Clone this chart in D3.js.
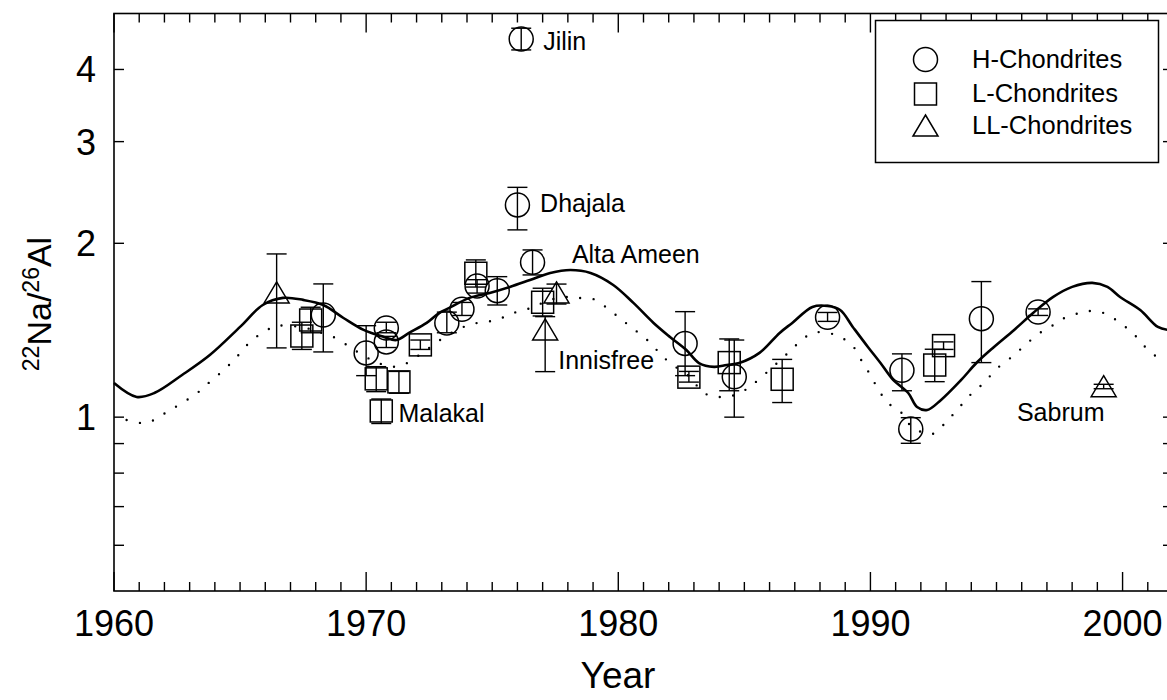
<!DOCTYPE html>
<html>
<head>
<meta charset="utf-8">
<style>
  body { margin: 0; background: #fff; }
  svg text { font-family: Arial, "Liberation Sans", sans-serif; fill: #000; }
</style>
</head>
<body>
<div id="chart"></div>
<script src="https://d3js.org/d3.v7.min.js"></script>
<script>
// model curve (solid)
var curveYears = [1960.0, 1960.9, 1961.6, 1962.7, 1963.8, 1965.0, 1965.9, 1966.7, 1967.5, 1968.3, 1969.1, 1969.9,
  1970.7, 1971.2, 1971.7, 1972.4, 1972.9, 1973.3, 1974.1, 1974.9, 1975.7, 1976.5, 1977.3, 1978.1, 1978.9,
  1979.8, 1980.6, 1981.4, 1982.05, 1982.7, 1983.2, 1983.8, 1984.3, 1984.8, 1985.6, 1986.4, 1986.9, 1987.7,
  1988.3, 1988.8, 1989.3, 1989.9, 1990.4, 1990.9, 1991.5, 1991.85, 1992.25, 1992.8, 1993.6, 1994.2, 1994.9,
  1995.7, 1996.45, 1997.25, 1998.0, 1998.8, 1999.4, 1999.9, 2000.7, 2001.4, 2001.8];
var curveValues = [1.146, 1.084, 1.101, 1.183, 1.281, 1.433, 1.564, 1.609, 1.596, 1.564, 1.485, 1.416,
  1.377, 1.360, 1.399, 1.456, 1.515, 1.546, 1.609, 1.641, 1.681, 1.728, 1.777, 1.798, 1.777,
  1.694, 1.577, 1.456, 1.377, 1.307, 1.241, 1.222, 1.231, 1.241, 1.292, 1.399, 1.456, 1.552,
  1.558, 1.533, 1.433, 1.323, 1.241, 1.160, 1.101, 1.041, 1.029, 1.071, 1.160, 1.241, 1.323,
  1.416, 1.515, 1.615, 1.681, 1.708, 1.681, 1.615, 1.533, 1.433, 1.416];

// dotted curve
var dotYears = [1960.5, 1961.1, 1961.6, 1962.1, 1962.7, 1963.3, 1963.8, 1964.4, 1964.9, 1965.4, 1966.0, 1966.5,
  1967.6, 1968.1, 1968.7, 1969.3, 1969.8, 1970.5, 1971.3, 1972.5, 1973.05, 1973.6, 1974.1, 1974.6, 1975.2,
  1975.7, 1976.3, 1976.8, 1977.3, 1977.9, 1978.4, 1979.0, 1979.5, 1980.0, 1980.5, 1981.1, 1981.6, 1982.05,
  1982.8, 1983.4, 1984.0, 1984.55, 1985.1, 1985.6, 1986.7, 1987.2, 1987.7, 1988.3, 1988.8, 1989.3, 1989.7,
  1990.0, 1990.3, 1990.7, 1991.2, 1991.65, 1992.45, 1993.0, 1993.5, 1994.0, 1994.5, 1995.0, 1995.6, 1996.1,
  1996.65, 1997.2, 1997.7, 1998.3, 1998.8, 1999.35, 1999.9, 2000.4, 2000.9, 2001.5];
var dotValues = [0.989, 0.977, 0.989, 1.021, 1.058, 1.101, 1.151, 1.212, 1.276, 1.350, 1.410, 1.439,
  1.427, 1.405, 1.377, 1.328, 1.286, 1.24, 1.225, 1.318, 1.371, 1.416, 1.445, 1.461, 1.473,
  1.509, 1.533, 1.564, 1.596, 1.615, 1.609, 1.602, 1.552, 1.491, 1.433, 1.366, 1.297, 1.241,
  1.178, 1.101, 1.084, 1.09, 1.119, 1.165, 1.288, 1.350, 1.399, 1.399, 1.377, 1.328, 1.241,
  1.183, 1.119, 1.058, 1.021, 0.962, 0.935, 0.981, 1.037, 1.097, 1.146, 1.212, 1.271, 1.328,
  1.393, 1.439, 1.485, 1.515, 1.527, 1.509, 1.456, 1.399, 1.323, 1.256];

// H-chondrites (circles)
var hYears = [1968.3, 1970.0, 1970.8, 1970.8, 1973.2, 1973.8, 1974.4, 1975.2, 1976.15, 1976.0, 1976.6,
  1982.65, 1984.6, 1988.3, 1991.25, 1991.6, 1994.4, 1996.65];
var hValues = [1.503, 1.292, 1.427, 1.350, 1.456, 1.538, 1.687, 1.656, 4.518, 2.331, 1.854,
  1.342, 1.175, 1.489, 1.206, 0.954, 1.481, 1.521];
var hLow = [1.297, 1.18, 1.40, 1.32, 1.40, 1.50, 1.64, 1.564, 4.324, 2.11, 1.763,
  1.18, 1.0, 1.465, 1.111, 0.901, 1.243, 1.50];
var hHigh = [1.701, 1.44, 1.46, 1.38, 1.52, 1.58, 1.73, 1.751, 4.715, 2.50, 1.948,
  1.523, 1.36, 1.518, 1.287, 0.998, 1.717, 1.54];

// L-chondrites (squares)
var lYears = [1967.8, 1967.45, 1970.4, 1971.3, 1970.6, 1972.15, 1974.35, 1977.0, 1982.8, 1984.4, 1986.5, 1992.9, 1992.55];
var lValues = [1.473, 1.382, 1.165, 1.151, 1.025, 1.334, 1.775, 1.581, 1.173, 1.243, 1.163, 1.330, 1.231];
var lLow = [1.40, 1.31, 1.107, 1.10, 0.975, 1.31, 1.68, 1.497, 1.15, 1.111, 1.06, 1.31, 1.152];
var lHigh = [1.55, 1.46, 1.223, 1.20, 1.075, 1.36, 1.872, 1.672, 1.20, 1.366, 1.259, 1.35, 1.311];

// LL-chondrites (triangles)
var llYears = [1966.45, 1977.55, 1977.1, 1999.25];
var llValues = [1.641, 1.641, 1.416, 1.129];
var llLow = [1.318, 1.57, 1.199, 1.12];
var llHigh = [1.917, 1.70, 1.493, 1.14];

// meteorite names
var labelNames = ["Jilin", "Dhajala", "Alta Ameen", "Innisfree", "Malakal", "Sabrum"];
var labelYears = [1977.02, 1976.9, 1978.16, 1977.62, 1971.28, 1995.81];
var labelValues = [4.324, 2.27, 1.847, 1.21, 0.982, 0.986];

var xMajor = [1960, 1970, 1980, 1990, 2000];
var yMajor = [1, 2, 3, 4];
var yMinor = [0.6, 0.7, 0.8, 0.9];
var legendNames = ["H-Chondrites", "L-Chondrites", "LL-Chondrites"];

var width = 1167, height = 700;
var plotLeft = 114, plotRight = 1173, plotTop = 13.5, plotBottom = 591;

var svg = d3.select("#chart").append("svg")
  .attr("width", width)
  .attr("height", height);

var x = d3.scaleLinear().domain([1960, 2002]).range([plotLeft, plotRight]);
var y = d3.scaleLog().domain([0.5, 5]).range([plotBottom, plotTop]);

// ticks, all pointing inward
var xMinor = d3.range(1961, 2002).filter(function(d) { return d % 10 != 0; });
function tickLine(x1, y1, x2, y2) {
  svg.append("line")
    .attr("x1", x1).attr("y1", y1).attr("x2", x2).attr("y2", y2)
    .attr("stroke", "black").attr("stroke-width", 1.4);
}
xMinor.forEach(function(d) {
  tickLine(x(d), plotBottom, x(d), plotBottom - 9);
  tickLine(x(d), plotTop, x(d), plotTop + 9);
});
xMajor.forEach(function(d) {
  tickLine(x(d), plotBottom, x(d), plotBottom - 19);
  tickLine(x(d), plotTop, x(d), plotTop + 19);
  svg.append("text")
    .attr("x", x(d)).attr("y", plotBottom + 45)
    .attr("text-anchor", "middle")
    .attr("font-size", "36px")
    .text(d);
});
yMajor.concat(yMinor).forEach(function(d) {
  tickLine(plotLeft, y(d), plotLeft + 10, y(d));
  tickLine(plotRight, y(d), plotRight - 10, y(d));
});
yMajor.forEach(function(d) {
  svg.append("text")
    .attr("x", 96).attr("y", y(d) + 13)
    .attr("text-anchor", "end")
    .attr("font-size", "36px")
    .text(d);
});

// frame
svg.append("rect")
  .attr("x", plotLeft).attr("y", plotTop)
  .attr("width", plotRight - plotLeft).attr("height", plotBottom - plotTop)
  .attr("fill", "none").attr("stroke", "black").attr("stroke-width", 1.6);

// axis titles
svg.append("text")
  .attr("x", 618).attr("y", 688)
  .attr("text-anchor", "middle")
  .attr("font-size", "37px")
  .text("Year");

var ylab = svg.append("text")
  .attr("transform", "translate(51,304) rotate(-90)")
  .attr("text-anchor", "middle")
  .attr("font-size", "34px");
ylab.append("tspan").attr("font-size", "23px").attr("dy", "-12").text("22");
ylab.append("tspan").attr("dy", "12").text("Na/");
ylab.append("tspan").attr("font-size", "23px").attr("dy", "-12").text("26");
ylab.append("tspan").attr("dy", "12").text("Al");

// curves
var solid = d3.line()
  .x(function(d, i) { return x(curveYears[i]); })
  .y(function(d) { return y(d); })
  .curve(d3.curveCatmullRom);
svg.append("path")
  .attr("d", solid(curveValues))
  .attr("fill", "none").attr("stroke", "black").attr("stroke-width", 2.6);

var dotted = d3.line()
  .x(function(d, i) { return x(dotYears[i]); })
  .y(function(d) { return y(d); })
  .curve(d3.curveCatmullRom);
svg.append("path")
  .attr("d", dotted(dotValues))
  .attr("fill", "none").attr("stroke", "black").attr("stroke-width", 2.4)
  .attr("stroke-linecap", "round")
  .attr("stroke-dasharray", "0 13.5");

// error bars
function errorBars(years, low, high) {
  years.forEach(function(yr, i) {
    var cx = x(yr);
    tickLine(cx, y(low[i]), cx, y(high[i]));
    tickLine(cx - 10, y(low[i]), cx + 10, y(low[i]));
    tickLine(cx - 10, y(high[i]), cx + 10, y(high[i]));
  });
}
errorBars(hYears, hLow, hHigh);
errorBars(lYears, lLow, lHigh);
errorBars(llYears, llLow, llHigh);

// symbols
function circle(cx, cy) {
  svg.append("circle")
    .attr("cx", cx).attr("cy", cy).attr("r", 12)
    .attr("fill", "none").attr("stroke", "black").attr("stroke-width", 1.5);
}
function square(cx, cy) {
  svg.append("rect")
    .attr("x", cx - 11).attr("y", cy - 11).attr("width", 22).attr("height", 22)
    .attr("fill", "none").attr("stroke", "black").attr("stroke-width", 1.5);
}
function triangle(cx, cy) {
  svg.append("path")
    .attr("d", "M" + cx + "," + (cy - 11) + "L" + (cx + 12.5) + "," + (cy + 10) + "L" + (cx - 12.5) + "," + (cy + 10) + "Z")
    .attr("fill", "none").attr("stroke", "black").attr("stroke-width", 1.5);
}
hYears.forEach(function(yr, i) { circle(x(yr), y(hValues[i])); });
lYears.forEach(function(yr, i) { square(x(yr), y(lValues[i])); });
llYears.forEach(function(yr, i) { triangle(x(yr), y(llValues[i])); });

// names
labelNames.forEach(function(name, i) {
  svg.append("text")
    .attr("x", x(labelYears[i])).attr("y", y(labelValues[i]))
    .attr("font-size", "25px")
    .text(name);
});

// legend
svg.append("rect")
  .attr("x", 875.5).attr("y", 20.5).attr("width", 283).attr("height", 142)
  .attr("fill", "white").attr("stroke", "black").attr("stroke-width", 1.5);
var legendY = [59.5, 94, 126];
circle(925.5, legendY[0]);
square(925.5, legendY[1]);
triangle(925.5, legendY[2]);
legendNames.forEach(function(name, i) {
  svg.append("text")
    .attr("x", 972).attr("y", legendY[i] + 8)
    .attr("font-size", "25.5px")
    .text(name);
});
</script>
</body>
</html>
